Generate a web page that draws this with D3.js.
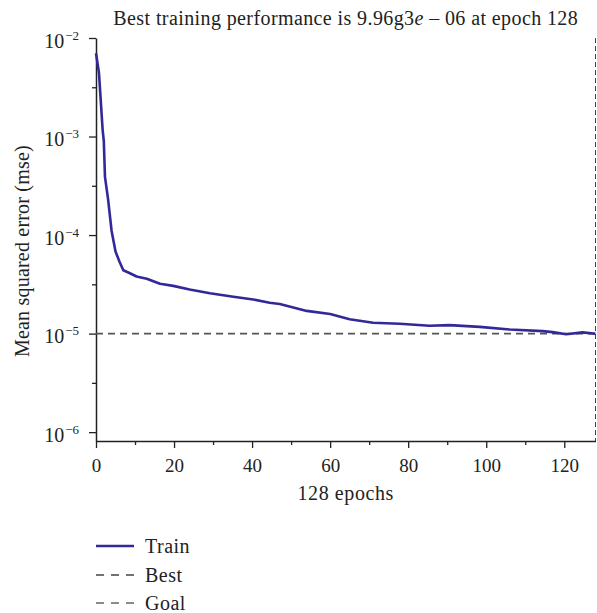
<!DOCTYPE html>
<html>
<head>
<meta charset="utf-8">
<script src="https://cdn.jsdelivr.net/npm/d3@7"></script>
<style>
  body { margin: 0; background: #fff; }
  .chart text { font-family: "Liberation Serif", "DejaVu Serif", serif; fill: #222; }
</style>
</head>
<body>
<div class="chart"></div>
<script>
// values
const epochs = [0, 0.7, 0.8, 1.7, 2.0, 2.3, 3.1, 4, 5, 6, 7, 8.7, 10.4, 13, 16.4, 19.8, 24, 29.2, 35.2, 40.3, 44.5, 47.1, 54, 60, 65, 71, 77.8, 85.5, 90.6, 98.3, 106, 114.5, 117, 120.5, 124.7, 128];
const mse = [7.0e-3, 4.6e-3, 4.2e-3, 1.17e-3, 9.0e-4, 3.9e-4, 2.3e-4, 1.1e-4, 6.8e-5, 5.4e-5, 4.4e-5, 4.1e-5, 3.8e-5, 3.6e-5, 3.2e-5, 3.05e-5, 2.8e-5, 2.57e-5, 2.37e-5, 2.22e-5, 2.06e-5, 2.0e-5, 1.7e-5, 1.58e-5, 1.4e-5, 1.29e-5, 1.26e-5, 1.2e-5, 1.22e-5, 1.17e-5, 1.1e-5, 1.06e-5, 1.035e-5, 9.86e-6, 1.03e-5, 9.96e-6];
const bestEpoch = 128;
const goal = 1e-5;
const xTicks = [0, 20, 40, 60, 80, 100, 120];
const xMinor = [10, 30, 50, 70, 90, 110];
const yExp = [-2, -3, -4, -5, -6];
const yMinorExp = [-2.5, -3.5, -4.5, -5.5];
const legendNames = ['Train', 'Best', 'Goal'];

const data = epochs.map((e, i) => ({epoch: e, mse: mse[i]}));

const margin = {top: 38, left: 96, bottom: 172, right: 1.5};
const W = 597, H = 613;
const width = W - margin.left - margin.right;
const height = H - margin.top - margin.bottom;

let svg = d3.select('.chart').append('svg')
    .attr('width', W)
    .attr('height', H)
    .append('g')
    .attr('transform', 'translate(' + margin.left + ',' + margin.top + ')');

const xScale = d3.scaleLinear()
    .range([0, width])
    .domain([0, 128]);

const yScale = d3.scaleLog()
    .range([height, 0])
    .domain([Math.pow(10, -6.09), 1e-2]);

// minor ticks first so major ones sit on top
svg.append('g')
    .attr('transform', `translate(0, ${height})`)
    .call(d3.axisBottom(xScale).tickValues(xMinor).tickSize(4).tickFormat(''))
    .call(g => g.select('.domain').remove())
    .selectAll('line').attr('stroke', '#222').attr('stroke-width', 1.3);

svg.append('g')
    .call(d3.axisLeft(yScale).tickValues(yMinorExp.map(e => Math.pow(10, e))).tickSize(4).tickFormat(''))
    .call(g => g.select('.domain').remove())
    .selectAll('line').attr('stroke', '#222').attr('stroke-width', 1.3);

let X = svg.append('g')
    .attr('class', 'axis x-axis')
    .attr('transform', `translate(0, ${height})`)
    .call(d3.axisBottom(xScale).tickValues(xTicks).tickSize(7).tickSizeOuter(0).tickPadding(11));

X.select('.domain').attr('stroke', '#222').attr('stroke-width', 1.5);
X.selectAll('line').attr('stroke', '#222').attr('stroke-width', 1.3);
X.selectAll('text').attr('font-size', 19).attr('font-family', '"Liberation Serif", serif').attr('fill', '#222');

let Y = svg.append('g')
    .attr('class', 'axis y-axis')
    .call(d3.axisLeft(yScale).tickValues(yExp.map(e => Math.pow(10, e))).tickSize(7).tickSizeOuter(0).tickFormat(''));

Y.select('.domain').attr('stroke', '#222').attr('stroke-width', 1.5);
Y.selectAll('line').attr('stroke', '#222').attr('stroke-width', 1.3);

// power-of-ten labels with superscripts
let yl = svg.append('g').selectAll('text')
    .data(yExp)
    .enter()
    .append('text')
    .attr('x', -17)
    .attr('y', d => yScale(Math.pow(10, d)) + 9.5)
    .attr('text-anchor', 'end')
    .attr('font-size', 20);
yl.append('tspan').text('10');
yl.append('tspan')
    .attr('dy', -8)
    .attr('dx', 1)
    .attr('font-size', 13)
    .text(d => '\u2212' + Math.abs(d));

// goal line
svg.append('line')
    .attr('x1', 0)
    .attr('x2', width)
    .attr('y1', yScale(goal))
    .attr('y2', yScale(goal))
    .attr('stroke', '#555')
    .attr('stroke-width', 1.6)
    .attr('stroke-dasharray', '7,5');

// best epoch marker
svg.append('line')
    .attr('x1', xScale(bestEpoch))
    .attr('x2', xScale(bestEpoch))
    .attr('y1', 0)
    .attr('y2', height)
    .attr('stroke', '#444')
    .attr('stroke-width', 1)
    .attr('stroke-dasharray', '5,3');

const line = d3.line()
    .x(d => xScale(d.epoch))
    .y(d => yScale(d.mse));

svg.append('path')
    .datum(data)
    .attr('class', 'line')
    .attr('d', line)
    .attr('fill', 'none')
    .attr('stroke', '#33289a')
    .attr('stroke-width', 2.6)
    .attr('stroke-linejoin', 'round');

// title
let title = svg.append('text')
    .attr('x', width / 2)
    .attr('y', -13)
    .attr('text-anchor', 'middle')
    .attr('font-size', 20)
    .attr('letter-spacing', 0.4);
title.append('tspan').text('Best training performance is 9.96g3');
title.append('tspan').attr('font-style', 'italic').text('e');
title.append('tspan').text(' \u2013 06 at epoch 128');

svg.append('text')
    .attr('x', width / 2)
    .attr('y', height + 59)
    .attr('text-anchor', 'middle')
    .attr('font-size', 20)
    .attr('letter-spacing', 0.6)
    .text('128 epochs');

svg.append('text')
    .attr('transform', `translate(${-margin.left + 29}, ${yScale(1e-4) + 16}) rotate(-90)`)
    .attr('text-anchor', 'middle')
    .attr('font-size', 20)
    .attr('letter-spacing', 0.2)
    .text('Mean squared error (mse)');

// legend
const legendY = [546, 575, 603];
const legendStyle = [
    {stroke: '#33289a', width: 2.6, dash: null},
    {stroke: '#444', width: 1.3, dash: '8,7'},
    {stroke: '#666', width: 1.3, dash: '8,7'}
];
let leg = d3.select('svg').append('g')
    .selectAll('g')
    .data(legendNames)
    .enter()
    .append('g')
    .attr('transform', (d, i) => `translate(96, ${legendY[i]})`);

leg.append('line')
    .attr('x1', 0)
    .attr('x2', 38)
    .attr('stroke', (d, i) => legendStyle[i].stroke)
    .attr('stroke-width', (d, i) => legendStyle[i].width)
    .attr('stroke-dasharray', (d, i) => legendStyle[i].dash);

leg.append('text')
    .attr('x', 49)
    .attr('y', 6.5)
    .attr('font-size', 20)
    .attr('letter-spacing', 0.5)
    .text(d => d);
</script>
</body>
</html>
